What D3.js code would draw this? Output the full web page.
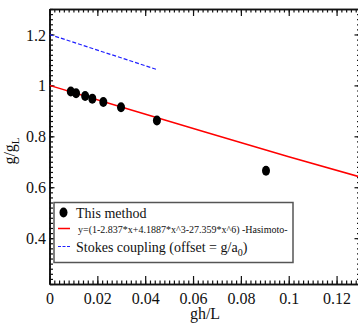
<!DOCTYPE html>
<html>
<head>
<meta charset="utf-8">
<script src="https://cdn.jsdelivr.net/npm/d3@7"></script>
<style>
  body { margin: 0; background: #fff; }
  svg { display: block; font-family: 'Liberation Serif', 'DejaVu Serif', serif; }
</style>
</head>
<body>
<div id="chart-container" style="width:358px;height:325px"></div>
<script>
// measured points
const methodX = [0.0089, 0.0111, 0.0149, 0.0179, 0.0225, 0.0299, 0.0449, 0.0905]
const methodY = [0.976, 0.969, 0.958, 0.948, 0.935, 0.914, 0.862, 0.665]

// Hasimoto fit
const fitX = [0, 0.03, 0.065, 0.1, 0.13]
const fitY = [1.0, 0.915, 0.817, 0.720, 0.640]

// Stokes coupling
const stokesX = [0, 0.045]
const stokesY = [1.2, 1.062]

const xTicks = [0, 0.02, 0.04, 0.06, 0.08, 0.1, 0.12]
const xTickLabels = ['0', '0.02', '0.04', '0.06', '0.08', '0.1', '0.12']
const yTicks = [0.4, 0.6, 0.8, 1, 1.2]
const yTickLabels = ['0.4', '0.6', '0.8', '1', '1.2']

const margin = { top: 9, left: 49.5 }
const width = 311
const height = 275

const x = d3.scaleLinear().domain([0, 0.13]).range([0, width])
const y = d3.scaleLinear().domain([0.22, 1.3]).range([height, 0])

const svg = d3.select('#chart-container').append('svg')
  .attr('width', 358)
  .attr('height', 325)

const g = svg.append('g')
  .attr('transform', 'translate(' + margin.left + ',' + margin.top + ')')

g.append('clipPath').attr('id', 'clip')
  .append('rect').attr('width', width).attr('height', height)

// minor + major ticks, all pointing inward
const xMinor = d3.range(0, 0.1301, 0.002)
const yMinor = d3.range(0.22, 1.3001, 0.02)

function tickAxis (axisFn, scale, vals, size, pos, labels) {
  const ax = axisFn(scale).tickValues(vals).tickSizeInner(size).tickSizeOuter(0)
  if (labels) ax.tickFormat((d, i) => labels[i])
  else ax.tickFormat('')
  const sel = g.append('g').attr('transform', pos).call(ax)
  sel.selectAll('line').attr('stroke', '#111').attr('stroke-width', 1.2)
  sel.select('.domain').attr('stroke', '#111').attr('stroke-width', 1.6)
  return sel
}

// bottom
tickAxis(d3.axisTop, x, xMinor, 3.5, 'translate(0,' + height + ')')
const xb = tickAxis(d3.axisTop, x, xTicks, 8, 'translate(0,' + height + ')', xTickLabels)
xb.selectAll('text').attr('y', 20).attr('dy', 0)
  .attr('font-size', 16).attr('fill', '#111')
  .attr('font-family', 'Liberation Serif, serif')
// top
tickAxis(d3.axisBottom, x, xMinor, 3.5, 'translate(0,0)')
tickAxis(d3.axisBottom, x, xTicks, 7, 'translate(0,0)')
// left
tickAxis(d3.axisRight, y, yMinor, 3.5, 'translate(0,0)')
const yl = tickAxis(d3.axisRight, y, yTicks, 5, 'translate(0,0)', yTickLabels)
yl.selectAll('text').attr('x', -3.5).attr('text-anchor', 'end').attr('dy', '0.35em')
  .attr('font-size', 16).attr('fill', '#111')
  .attr('font-family', 'Liberation Serif, serif')
// right
tickAxis(d3.axisLeft, y, yMinor, 3.5, 'translate(' + width + ',0)')
tickAxis(d3.axisLeft, y, yTicks, 6, 'translate(' + width + ',0)')

const plot = g.append('g').attr('clip-path', 'url(#clip)')

const line = d3.line()
  .x(function (d) { return x(d[0]) })
  .y(function (d) { return y(d[1]) })

plot.append('path')
  .datum(fitX.map((v, i) => [v, fitY[i]]))
  .attr('d', line)
  .attr('fill', 'none')
  .attr('stroke', '#ff0000')
  .attr('stroke-width', 1.5)

plot.append('path')
  .datum(stokesX.map((v, i) => [v, stokesY[i]]))
  .attr('d', line)
  .attr('fill', 'none')
  .attr('stroke', '#2020ff')
  .attr('stroke-width', 1.2)
  .attr('stroke-dasharray', '4,2')

plot.selectAll('.pt')
  .data(methodX.map((v, i) => [v, methodY[i]]))
  .enter().append('ellipse')
  .attr('class', 'pt')
  .attr('cx', d => x(d[0]))
  .attr('cy', d => y(d[1]))
  .attr('rx', 4)
  .attr('ry', 5)
  .attr('fill', '#000')

// legend
const lg = svg.append('g').attr('transform', 'translate(54,202.5)')
lg.append('rect')
  .attr('width', 239).attr('height', 60)
  .attr('fill', '#fff').attr('stroke', '#555').attr('stroke-width', 1.5)
lg.append('ellipse').attr('cx', 9.5).attr('cy', 10).attr('rx', 4).attr('ry', 5).attr('fill', '#000')
lg.append('text').attr('x', 22).attr('y', 15).attr('font-size', 14).attr('fill', '#111').text('This method')
lg.append('line').attr('x1', 4).attr('x2', 16).attr('y1', 26).attr('y2', 26)
  .attr('stroke', '#ff0000').attr('stroke-width', 1.5)
lg.append('text').attr('x', 24).attr('y', 30).attr('font-size', 10).attr('fill', '#111')
  .text('y=(1-2.837*x+4.1887*x^3-27.359*x^6) -Hasimoto-')
lg.append('line').attr('x1', 4).attr('x2', 16).attr('y1', 44).attr('y2', 44)
  .attr('stroke', '#2020ff').attr('stroke-width', 1.2).attr('stroke-dasharray', '3,1.5')
const st = lg.append('text').attr('x', 22).attr('y', 49).attr('font-size', 14).attr('fill', '#111')
st.append('tspan').text('Stokes coupling (offset = g/a')
st.append('tspan').attr('font-size', 10).attr('dy', 4).text('0')
st.append('tspan').attr('dy', -4).text(')')

// axis titles
svg.append('text')
  .attr('x', margin.left + 155.5).attr('y', 319)
  .attr('text-anchor', 'middle').attr('font-size', 16).attr('fill', '#111')
  .text('gh/L')

const yt = svg.append('text')
  .attr('transform', 'translate(14.5,151) rotate(-90)')
  .attr('text-anchor', 'middle').attr('font-size', 16).attr('fill', '#111')
yt.append('tspan').text('g/g')
yt.append('tspan').attr('font-size', 11).attr('dy', 4).text('L')
</script>
</body>
</html>
